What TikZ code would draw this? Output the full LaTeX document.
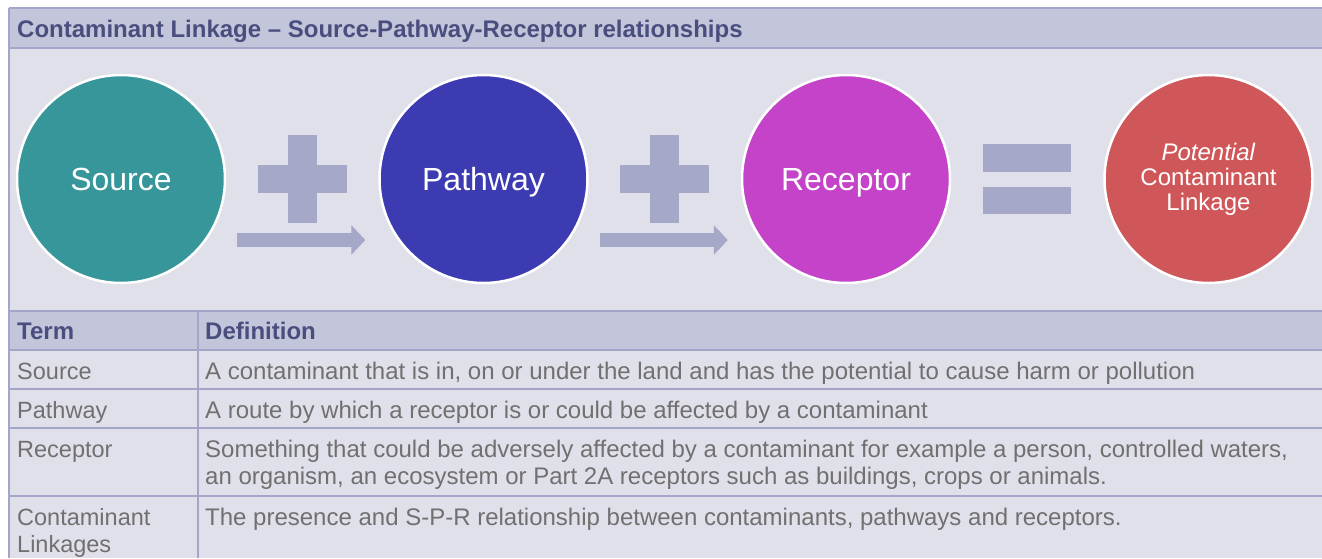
\documentclass[tikz,border=0pt]{standalone}
\usepackage{fontspec}
\setmainfont{Liberation Sans}
\usetikzlibrary{arrows.meta, positioning, calc}
\definecolor{panel}{HTML}{E0E0EB}
\definecolor{band}{HTML}{C3C5DA}
\definecolor{rulec}{HTML}{A3A6C9}
\definecolor{ttlc}{HTML}{4A4E7E}
\definecolor{cellc}{HTML}{707070}
\definecolor{symc}{HTML}{A5A8C6}
\definecolor{srcc}{HTML}{37969A}
\definecolor{pathc}{HTML}{3D3BB2}
\definecolor{recc}{HTML}{C443C9}
\definecolor{linkc}{HTML}{D05759}
\tikzset{
  blob/.style ={circle, minimum size=208pt, inner sep=0pt, draw=white, line width=2.5pt, text=white},
  word/.style ={font=\fontsize{32}{36}\selectfont, text height=23pt, text depth=0pt},
  sym/.style  ={fill=symc},
  flow/.style ={-{Triangle[length=14pt, width=29pt]}, line width=14pt, draw=symc},
  rule/.style ={draw=rulec, line width=2pt},
  ttl/.style  ={font=\fontsize{24}{27}\selectfont\bfseries, text=ttlc, anchor=base west, inner sep=0pt},
  term/.style ={font=\fontsize{23.5}{27}\selectfont, text=cellc, anchor=base west, inner sep=0pt, align=left},
  cell/.style ={font=\fontsize{24}{27}\selectfont, text=cellc, anchor=base west, inner sep=0pt, align=left},
}

\begin{document}
\begin{tikzpicture}[x=1pt, y=-1pt]
  \useasboundingbox (0,0) rectangle (1322,558);
  \fill[panel] (9,8) rectangle (1322,558);
  \fill[band] (9,8) rectangle (1322,48);
  \fill[band] (9,311) rectangle (1322,350);
  \foreach \yy in {8,48,311,350,389,428,496} \draw[rule] (9,\yy) -- (1322,\yy);
  \draw[rule] (9,8) -- (9,558);
  \draw[rule] (198,311) -- (198,558);

  \node[ttl] (title) at (17,37) {Contaminant Linkage – Source-Pathway-Receptor relationships};

  % S + P + R = linkage
  \node[blob, word, fill=srcc] (src) at (121,179) {Source};
  \node[blob, word, fill=pathc, right=152pt of src] (path) {Pathway};
  \node[blob, word, fill=recc, right=152pt of path] (rec) {Receptor};
  \node[blob, fill=linkc, right=152pt of rec, align=center, font=\fontsize{24}{25}\selectfont] (link) {\textit{Potential}\\Contaminant\\Linkage};

  \coordinate (p1) at ($(src.east)!0.5!(path.west)$);
  \coordinate (p2) at ($(path.east)!0.5!(rec.west)$);
  \foreach \pp in {p1,p2} {
    \fill[sym] ($(\pp)+(-44.5,-14)$) rectangle ($(\pp)+(44.5,14)$);
    \fill[sym] ($(\pp)+(-14.5,-44)$) rectangle ($(\pp)+(14.5,44)$);
  }
  \draw[flow] ([xshift=11pt, yshift=-61pt]src.east) -- ([xshift=-13pt, yshift=-61pt]path.west);
  \draw[flow] ([xshift=11pt, yshift=-61pt]path.east) -- ([xshift=-13pt, yshift=-61pt]rec.west);

  \coordinate (eq) at ($(rec.east)!0.5!(link.west)$);
  \fill[sym] ($(eq)+(-44,-35)$) rectangle ($(eq)+(44,-7)$);
  \fill[sym] ($(eq)+(-44,8)$) rectangle ($(eq)+(44,35)$);

  % table
  \node[ttl] (hterm) at (17,339) {Term};
  \node[ttl] (hdef) at (205,339) {Definition};
  \node[term] (t1) at (17,379) {Source};
  \node[cell] (d1) at (205,379) {A contaminant that is in, on or under the land and has the potential to cause harm or pollution};
  \node[term] (t2) at (17,418) {Pathway};
  \node[cell] (d2) at (205,418) {A route by which a receptor is or could be affected by a contaminant};
  \node[term] (t3) at (17,457) {Receptor};
  \node[cell] (d3) at (205,484) {Something that could be adversely affected by a contaminant for example a person, controlled waters,\\an organism, an ecosystem or Part 2A receptors such as buildings, crops or animals.};
  \node[term] (t4) at (17,552) {Contaminant\\Linkages};
  \node[cell] (d4) at (205,525) {The presence and S-P-R relationship between contaminants, pathways and receptors.};
\end{tikzpicture}
\end{document}
